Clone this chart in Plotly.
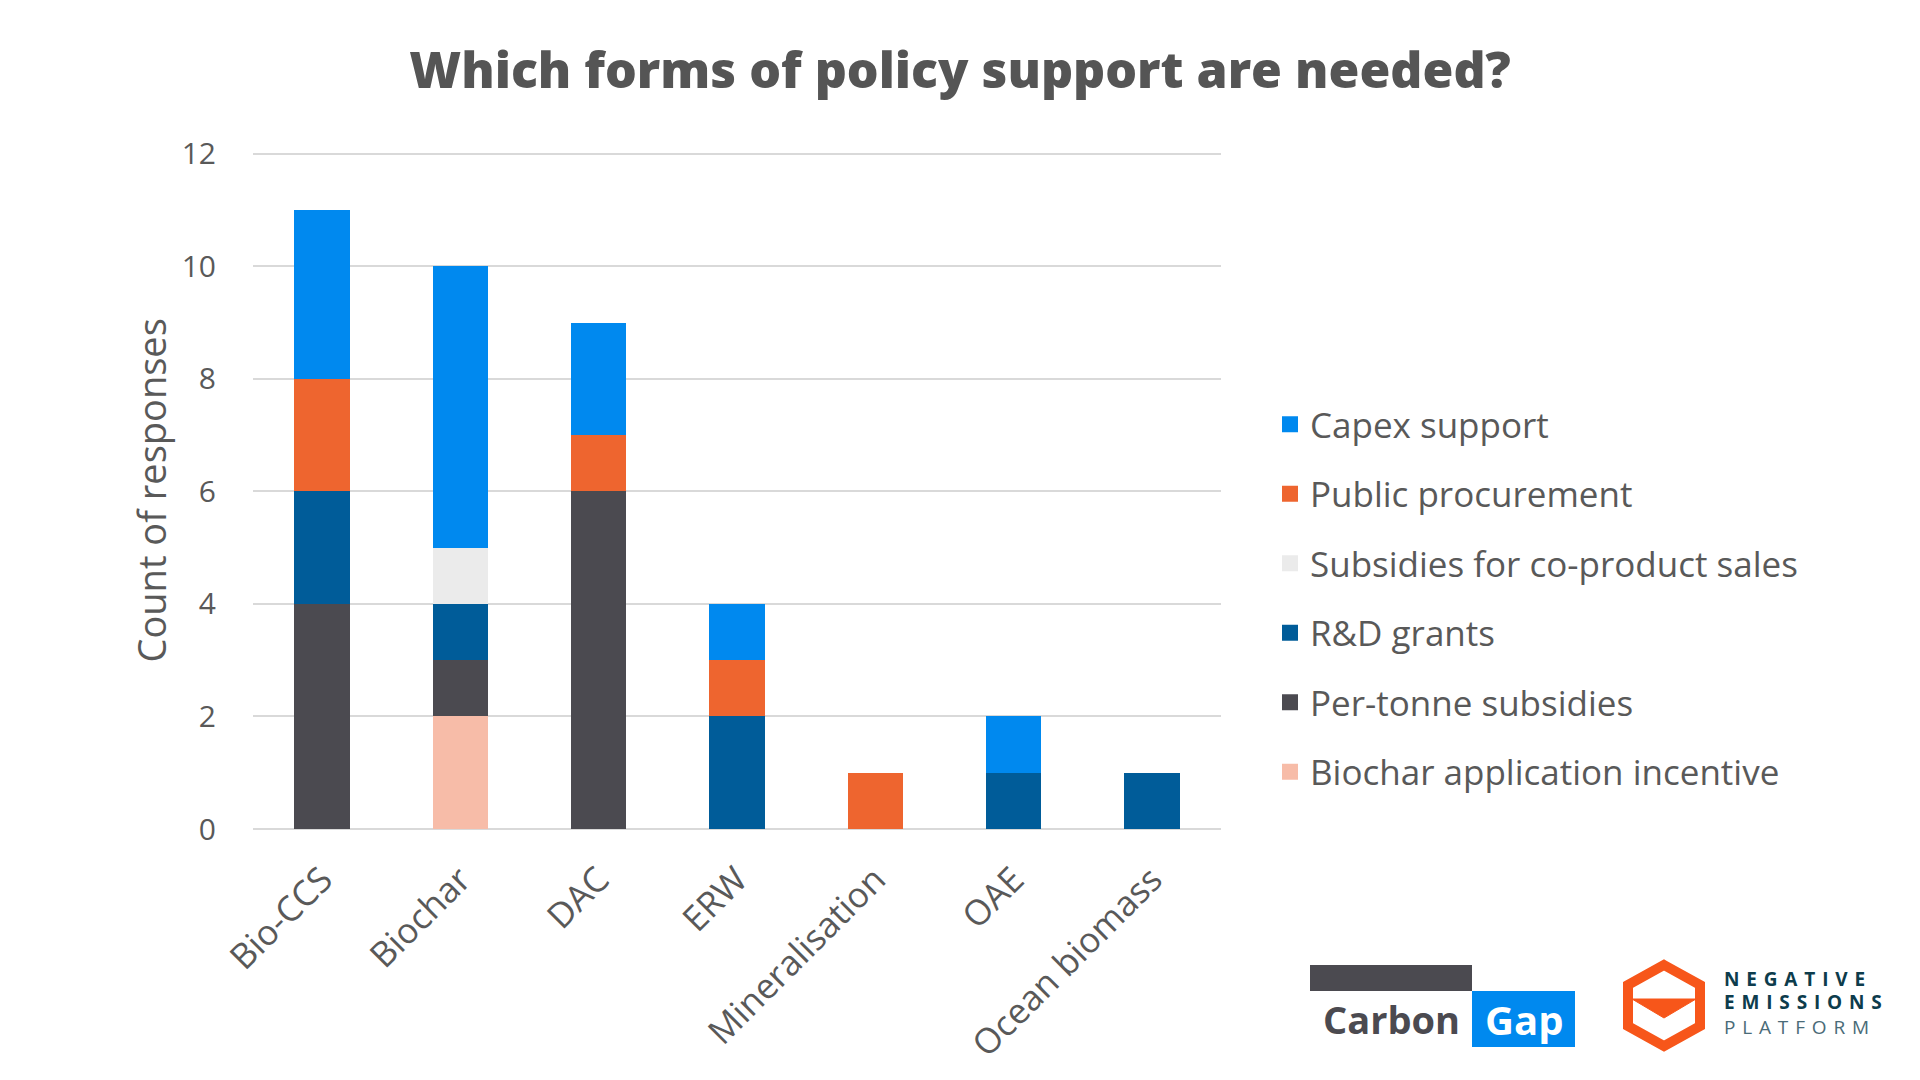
import plotly.graph_objects as go

categories = ["Bio-CCS", "Biochar", "DAC", "ERW", "Mineralisation", "OAE", "Ocean biomass"]

# stacked bottom -> top
biochar_app = [0, 2, 0, 0, 0, 0, 0]
per_tonne = [4, 1, 6, 0, 0, 0, 0]
rd_grants = [2, 1, 0, 2, 0, 1, 1]
coproduct = [0, 1, 0, 0, 0, 0, 0]
public_proc = [2, 0, 1, 1, 1, 0, 0]
capex = [3, 5, 2, 1, 0, 1, 0]

series = [
    ("Biochar application incentive", biochar_app, "#F7BCA8"),
    ("Per-tonne subsidies", per_tonne, "#4B4A50"),
    ("R&D grants", rd_grants, "#005C99"),
    ("Subsidies for co-product sales", coproduct, "#EBEBEB"),
    ("Public procurement", public_proc, "#EE652F"),
    ("Capex support", capex, "#0089EF"),
]

y_ticks = [0, 2, 4, 6, 8, 10, 12]

FONT = "Open Sans"
TXT = "#595959"

# plot area in pixels
L, R, T, B = 253, 1221, 152, 829
W, H = R - L, B - T


def px(x):
    return (x - L) / W


def py(y):
    return (B - y) / H


fig = go.Figure()
for name, vals, col in series:
    fig.add_trace(go.Bar(x=categories, y=vals, name=name, marker_color=col,
                         marker_line_width=0, showlegend=False, hoverinfo="x+y+name"))

# legend entries (top to bottom)
for name, vals, col in reversed(series):
    fig.add_trace(go.Scatter(x=[None], y=[None], mode="markers", name=name,
                             legendgroup=name,
                             marker=dict(symbol="square", size=16, color=col)))

shapes = []
annotations = []

# Carbon Gap logo
shapes.append(dict(type="rect", xref="paper", yref="paper", x0=px(1310), x1=px(1472),
                   y0=py(991), y1=py(965), fillcolor="#4B4A50", line_width=0, layer="above"))
shapes.append(dict(type="rect", xref="paper", yref="paper", x0=px(1472), x1=px(1575),
                   y0=py(1047), y1=py(991), fillcolor="#0089EF", line_width=0, layer="above"))
annotations.append(dict(xref="paper", yref="paper", x=px(1391), y=py(1019), text="<b>Carbon</b>",
                        showarrow=False, font=dict(family=FONT, size=38, color="#4B4A50"),
                        xanchor="center", yanchor="middle"))
annotations.append(dict(xref="paper", yref="paper", x=px(1524), y=py(1019), text="<b>Gap</b>",
                        showarrow=False, font=dict(family=FONT, size=40, color="#FFFFFF"),
                        xanchor="center", yanchor="middle"))

# Negative Emissions Platform logo
cx, top, bot, lft, rgt = 1664, 965, 1046, 1628, 1700


def pth(points):
    return "M " + " L ".join(f"{px(a)},{py(b)}" for a, b in points) + " Z"


hexpts = [(cx, top), (rgt, 985), (rgt, 1026), (cx, bot), (lft, 1026), (lft, 985)]
shapes.append(dict(type="path", xref="paper", yref="paper", path=pth(hexpts),
                   line=dict(color="#F7561A", width=10), fillcolor="rgba(0,0,0,0)", layer="above"))
chev = [(1632, 999), (1696, 999), (cx, 1018)]
shapes.append(dict(type="path", xref="paper", yref="paper", path=pth(chev),
                   line=dict(color="#F7561A", width=1), fillcolor="#F7561A", layer="above"))

sp = " \u200a"
for txt, yy, bold, col in [("NEGATIVE", 979, True, "#0D3C4C"), ("EMISSIONS", 1002, True, "#0D3C4C"),
                           ("PLATFORM", 1027, False, "#4A6B78")]:
    t = sp.join(list(txt))
    if bold:
        t = f"<b>{t}</b>"
    annotations.append(dict(xref="paper", yref="paper", x=px(1722), y=py(yy), text=t,
                            showarrow=False, font=dict(family=FONT, size=19, color=col),
                            xanchor="left", yanchor="middle"))

# y axis title
annotations.append(dict(xref="paper", yref="paper", x=px(150), y=0.5, text="Count of responses",
                        textangle=-90, showarrow=False, xanchor="center", yanchor="middle",
                        font=dict(family=FONT, size=38, color=TXT)))

fig.update_layout(
    width=1920, height=1080,
    barmode="stack", bargap=0.6,
    plot_bgcolor="white", paper_bgcolor="white",
    margin=dict(l=L, r=1920 - R, t=T, b=1080 - B),
    title=dict(text="Which forms of policy support are needed?", x=0.5, xanchor="center",
               y=1 - 70 / 1080, yanchor="middle", yref="container",
               font=dict(family=FONT, size=50, color="#555555", weight=800)),
    font=dict(family=FONT, color=TXT),
    legend=dict(x=px(1270), xanchor="left", y=py(395), yanchor="top",
                font=dict(family=FONT, size=35, color=TXT), tracegroupgap=21,
                bgcolor="rgba(0,0,0,0)", traceorder="grouped"),
    xaxis=dict(tickangle=-45, tickfont=dict(family=FONT, size=35, color=TXT), showgrid=False,
               showline=False, ticks="", ticklabelstandoff=22, fixedrange=True),
    yaxis=dict(range=[0, 12.03], tickvals=y_ticks, tickfont=dict(family=FONT, size=30, color=TXT),
               showgrid=True, gridcolor="#D9D9D9", gridwidth=2, zeroline=True, zerolinecolor="#D9D9D9",
               zerolinewidth=2, showline=False, ticks="", ticklabelstandoff=36),
    shapes=shapes,
    annotations=annotations,
)

fig.write_html("out.html", config={"displayModeBar": False})
